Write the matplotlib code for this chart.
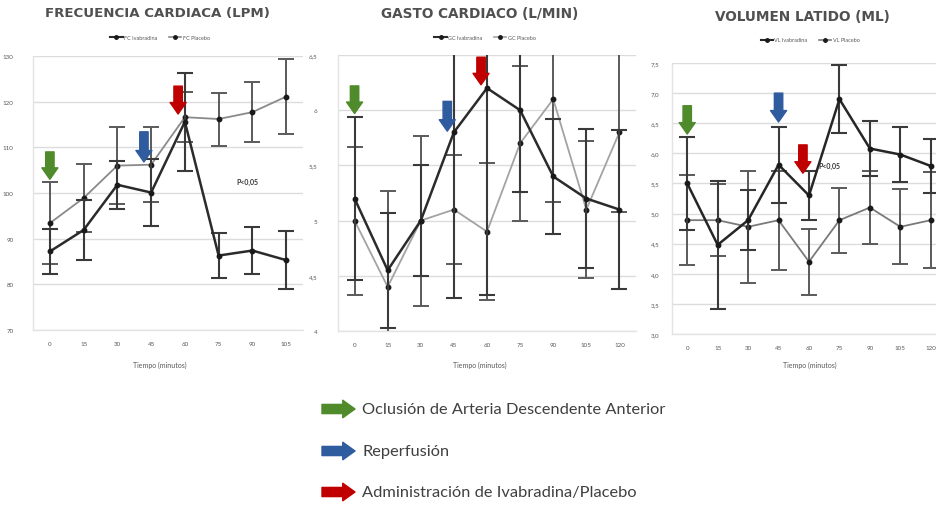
import matplotlib
matplotlib.use("Agg")
import matplotlib.pyplot as plt
from matplotlib.lines import Line2D
from matplotlib.patches import FancyArrowPatch

plt.rcParams['font.family'] = ['Lato', 'DejaVu Sans']

# ---- Frecuencia cardiaca (lpm) ----
fc_tiempo = [0, 15, 30, 45, 60, 75, 90, 105]
fc_ivab = [87.2, 91.9, 101.8, 100.1, 115.6, 86.3, 87.4, 85.3]
fc_ivab_err = [5.0, 6.6, 5.3, 7.3, 10.7, 5.0, 5.2, 6.3]
fc_plac = [93.4, 98.9, 106.0, 106.2, 116.6, 116.2, 117.7, 121.1]
fc_plac_err = [9.0, 7.4, 8.4, 8.2, 5.5, 5.8, 6.5, 8.2]
fc_yticks = [70, 80, 90, 100, 110, 120, 130]

# ---- Gasto cardiaco (L/min) ----
gc_tiempo = [0, 15, 30, 45, 60, 75, 90, 105, 120]
gc_ivab = [5.2, 4.55, 5.0, 5.8, 6.2, 6.0, 5.4, 5.2, 5.1]
gc_ivab_err = [0.74, 0.52, 0.5, 1.5, 1.87, 0.74, 0.52, 0.63, 0.72]
gc_plac = [5.0, 4.4, 5.0, 5.1, 4.9, 5.7, 6.1, 5.1, 5.8]
gc_plac_err = [0.67, 0.87, 0.77, 0.49, 0.62, 0.7, 0.93, 0.62, 0.72]
gc_yticks = [4, 4.5, 5, 5.5, 6, 6.5]

# ---- Volumen latido (mL) ----
vl_tiempo = [0, 15, 30, 45, 60, 75, 90, 105, 120]
vl_ivab = [5.5, 4.48, 4.89, 5.81, 5.3, 6.9, 6.08, 5.98, 5.79]
vl_ivab_err = [0.77, 1.06, 0.5, 0.63, 0.4, 0.57, 0.45, 0.45, 0.45]
vl_plac = [4.89, 4.89, 4.78, 4.89, 4.2, 4.89, 5.1, 4.78, 4.89]
vl_plac_err = [0.75, 0.6, 0.93, 0.82, 0.55, 0.54, 0.6, 0.62, 0.8]
vl_yticks = [3.0, 3.5, 4.0, 4.5, 5.0, 5.5, 6.0, 6.5, 7.0, 7.5]

eventos = ["Oclusión de Arteria Descendente Anterior", "Reperfusión",
           "Administración de Ivabradina/Placebo"]
colores_evento = ["#4f8a2b", "#2f5b9f", "#c00000"]

W, H = 936, 506
fig = plt.figure(figsize=(W / 100, H / 100), dpi=100)
fig.patch.set_facecolor("white")


def px_axes(left, top, right, bottom):
    return fig.add_axes([left / W, 1 - bottom / H, (right - left) / W, (bottom - top) / H])


def fmt_coma(v, dec):
    return (f"{v:.{dec}f}" if dec else f"{v:g}").replace(".", ",")


def panel(ax, t, ivab, ivab_err, plac, plac_err, yticks, ydec, prefijo,
          title, title_xy, title_size, legend_xy, xlabel_xy, ypad, ivab_col, plac_col):
    ax.errorbar(t, plac, yerr=plac_err, color=plac_col, lw=1.3, marker="o", ms=3.2,
                mfc="#1a1a1a", mec="#1a1a1a", ecolor="#5a5a5a", elinewidth=1.4,
                capsize=5.5, capthick=1.4, zorder=3)
    ax.errorbar(t, ivab, yerr=ivab_err, color=ivab_col, lw=1.8, marker="o", ms=3.2,
                mfc="#1a1a1a", mec="#1a1a1a", ecolor="#3a3a3a", elinewidth=1.5,
                capsize=5.5, capthick=1.5, zorder=4)
    ax.set_xlim(t[0] - 7.5, t[-1] + 7.5)
    ax.set_ylim(yticks[0], yticks[-1])
    ax.set_xticks(t)
    ax.set_xticklabels([str(v) for v in t], fontsize=4.5, color="#595959")
    ax.set_yticks(yticks)
    ax.set_yticklabels([fmt_coma(v, ydec) for v in yticks], fontsize=4.5, color="#595959")
    ax.tick_params(axis="both", length=0)
    ax.tick_params(axis="y", pad=ypad)
    ax.tick_params(axis="x", pad=8)
    ax.grid(axis="y", color="#dcdcdc", lw=1.0)
    ax.set_axisbelow(True)
    for s in ["top", "right"]:
        ax.spines[s].set_visible(False)
    for s in ["left", "bottom"]:
        ax.spines[s].set_color("#e3e3e3")
        ax.spines[s].set_linewidth(1.0)

    fig.text(title_xy[0] / W, 1 - title_xy[1] / H, title, fontsize=title_size,
             fontweight="bold", family="DejaVu Sans", color="#505050",
             ha="center", va="center")
    fig.text(xlabel_xy[0] / W, 1 - xlabel_xy[1] / H, "Tiempo (minutos)", fontsize=5,
             color="#595959", ha="center", va="center")
    handles = [Line2D([], [], color=ivab_col, lw=1.5, marker="o", ms=2.5, mfc="#1a1a1a", mec="#1a1a1a"),
               Line2D([], [], color=plac_col, lw=1.2, marker="o", ms=2.5, mfc="#1a1a1a", mec="#1a1a1a")]
    fig.legend(handles, [f"{prefijo} Ivabradina", f"{prefijo} Placebo"], loc="center",
               bbox_to_anchor=(legend_xy[0] / W, 1 - legend_xy[1] / H), ncol=2, frameon=False,
               fontsize=4, handlelength=2.2, columnspacing=2.0, handletextpad=0.3,
               labelcolor="#595959")


def flecha_v(ax, x, top, tip, color):
    ax.annotate("", xy=(x, tip), xytext=(x, top),
                arrowprops=dict(arrowstyle="simple,head_length=0.75,head_width=1.05,tail_width=0.55",
                                mutation_scale=11, color=color, shrinkA=0, shrinkB=0),
                zorder=6)


def p_texto(ax, x, y):
    ax.text(x, y, "P<0,05", fontsize=5, fontweight="bold", color="#333333",
            ha="center", va="center", zorder=5)


# Frecuencia cardiaca
ax1 = px_axes(33, 57, 303, 331)
panel(ax1, fc_tiempo, fc_ivab, fc_ivab_err, fc_plac, fc_plac_err, fc_yticks, 0, "FC",
      "FRECUENCIA CARDIACA (LPM)", (157, 14), 9.6, (160, 38), (160, 365), 14,
      "#2b2b2b", "#8a8a8a")
flecha_v(ax1, 0, 109.0, 103.0, colores_evento[0])
flecha_v(ax1, 41.8, 113.4, 106.8, colores_evento[1])
flecha_v(ax1, 57.0, 123.4, 117.3, colores_evento[2])
p_texto(ax1, 88, 102.5)

# Gasto cardiaco
ax2 = px_axes(338, 56, 636, 332)
panel(ax2, gc_tiempo, gc_ivab, gc_ivab_err, gc_plac, gc_plac_err, gc_yticks, None, "GC",
      "GASTO CARDIACO (L/MIN)", (480, 14), 9.8, (485, 38), (480, 365), 15,
      "#2b2b2b", "#a3a3a3")
flecha_v(ax2, 0, 6.22, 5.97, colores_evento[0])
flecha_v(ax2, 42, 6.08, 5.81, colores_evento[1])
flecha_v(ax2, 57.3, 6.48, 6.23, colores_evento[2])

# Volumen latido
ax3 = px_axes(672, 64, 946, 335)
panel(ax3, vl_tiempo, vl_ivab, vl_ivab_err, vl_plac, vl_plac_err, vl_yticks, 1, "VL",
      "VOLUMEN LATIDO (ML)", (802, 17), 9.8, (810, 41), (810, 365), 9,
      "#262626", "#7a7a7a")
flecha_v(ax3, 0, 6.79, 6.32, colores_evento[0])
flecha_v(ax3, 45, 7.0, 6.52, colores_evento[1])
flecha_v(ax3, 57, 6.14, 5.67, colores_evento[2])
p_texto(ax3, 70, 5.8)

# Leyenda de eventos
for (y_px, texto, color) in zip([410, 452, 493], eventos, colores_evento):
    yf = 1 - y_px / H
    arr = FancyArrowPatch((322 / W, yf), (355 / W, yf), transform=fig.transFigure,
                          arrowstyle="simple,head_length=0.8,head_width=1.15,tail_width=0.6",
                          mutation_scale=11, color=color, shrinkA=0, shrinkB=0)
    fig.add_artist(arr)
    fig.text(362 / W, yf, texto, fontsize=11.8, color="#404040", ha="left", va="center")

fig.savefig("out.png", dpi=100, facecolor="white")
